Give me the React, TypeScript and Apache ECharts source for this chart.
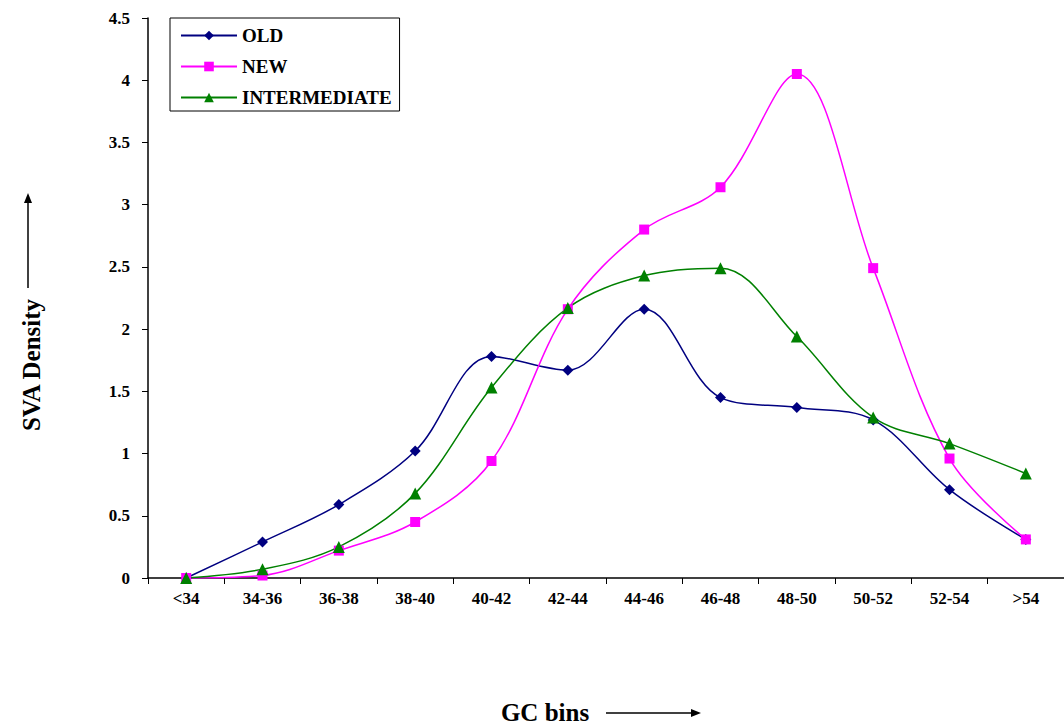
import React, { useEffect, useRef } from "react";
import * as echarts from "echarts";

const categories = ["<34", "34-36", "36-38", "38-40", "40-42", "42-44", "44-46", "46-48", "48-50", "50-52", "52-54", ">54"];
const oldValues = [0, 0.29, 0.59, 1.02, 1.78, 1.67, 2.16, 1.45, 1.37, 1.27, 0.71, 0.31];
const newValues = [0, 0.02, 0.22, 0.45, 0.94, 2.16, 2.8, 3.14, 4.05, 2.49, 0.96, 0.31];
const intermediateValues = [0, 0.07, 0.25, 0.68, 1.53, 2.17, 2.43, 2.49, 1.94, 1.29, 1.08, 0.84];
const yTicks = { min: 0, max: 4.5, interval: 0.5 };

const FONT = "Liberation Serif";

export default function App() {
  const ref = useRef<HTMLDivElement>(null);
  useEffect(() => {
    if (!ref.current) return;
    const chart = echarts.init(ref.current, undefined, { renderer: "svg" });
    const mk = (name: string, data: number[], color: string, symbol: string, size: number) => ({
      name,
      type: "line",
      data,
      smooth: 0.35,
      symbol,
      symbolSize: size,
      showAllSymbol: true,
      lineStyle: { color, width: 1.5 },
      itemStyle: { color },
    });
    chart.setOption({
      animation: false,
      backgroundColor: "#ffffff",
      grid: { left: 148, top: 18, width: 924, height: 560, containLabel: false },
      legend: {
        orient: "vertical",
        left: 170,
        top: 18,
        padding: [8, 8, 4, 10],
        itemWidth: 56,
        itemHeight: 12,
        itemGap: 12,
        borderColor: "#000",
        borderWidth: 1,
        backgroundColor: "#fff",
        textStyle: { fontFamily: FONT, fontSize: 19, fontWeight: "bold", color: "#000" },
        data: ["OLD", "NEW", "INTERMEDIATE"],
      },
      xAxis: {
        type: "category",
        data: categories,
        boundaryGap: true,
        axisLine: { lineStyle: { color: "#000", width: 1.5 } },
        axisTick: { show: true, alignWithLabel: false, length: 6, lineStyle: { color: "#000" } },
        axisLabel: { fontFamily: FONT, fontSize: 17, fontWeight: "bold", color: "#000", margin: 12 },
        splitLine: { show: false },
      },
      yAxis: {
        type: "value",
        min: yTicks.min,
        max: yTicks.max,
        interval: yTicks.interval,
        axisLine: { show: true, lineStyle: { color: "#000", width: 1.5 } },
        axisTick: { show: true, length: 6, lineStyle: { color: "#000" } },
        axisLabel: {
          fontFamily: FONT,
          fontSize: 17,
          fontWeight: "bold",
          color: "#000",
          margin: 18,
          formatter: (v: number) => String(v),
        },
        splitLine: { show: false },
      },
      series: [
        mk("OLD", oldValues, "#000080", "diamond", 11),
        mk("NEW", newValues, "#ff00ff", "rect", 10),
        mk("INTERMEDIATE", intermediateValues, "#008000", "triangle", 12),
      ],
      graphic: [
        {
          type: "text",
          x: 31,
          y: 365,
          rotation: Math.PI / 2,
          style: {
            text: "SVA Density",
            fontFamily: FONT,
            fontSize: 25,
            fontWeight: "bold",
            fill: "#000",
            align: "center",
            verticalAlign: "middle",
          },
        },
        { type: "line", shape: { x1: 28, y1: 288, x2: 28, y2: 200 }, style: { stroke: "#000", lineWidth: 1.5 } },
        { type: "polygon", shape: { points: [[28, 193], [24, 203], [32, 203]] }, style: { fill: "#000" } },
        {
          type: "text",
          x: 545,
          y: 712,
          style: {
            text: "GC bins",
            fontFamily: FONT,
            fontSize: 25,
            fontWeight: "bold",
            fill: "#000",
            align: "center",
            verticalAlign: "middle",
          },
        },
        { type: "line", shape: { x1: 606, y1: 713, x2: 693, y2: 713 }, style: { stroke: "#000", lineWidth: 1.5 } },
        { type: "polygon", shape: { points: [[701, 713], [691, 709], [691, 717]] }, style: { fill: "#000" } },
      ],
    });
    return () => chart.dispose();
  }, []);
  return (
    <div
      ref={ref}
      style={{ position: "absolute", left: 0, top: 0, width: 1064, height: 727, background: "#fff" }}
    />
  );
}
